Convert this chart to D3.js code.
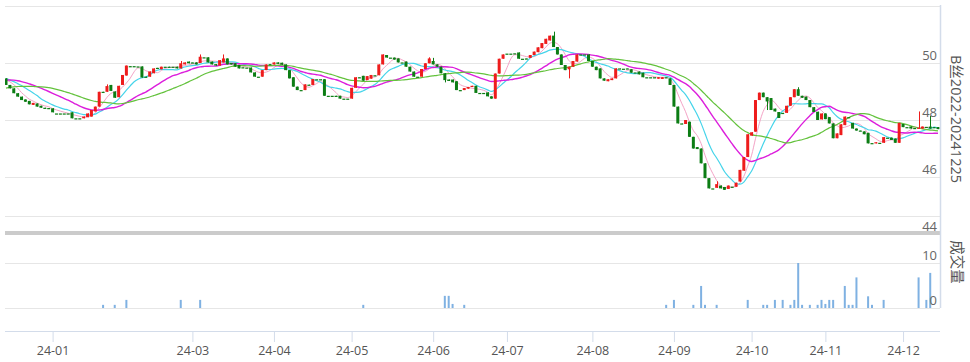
<!DOCTYPE html>
<html>
<head>
<meta charset="utf-8">
<script src="https://cdn.jsdelivr.net/npm/d3@7"></script>
<style>
  body { margin: 0; background: #fff; }
  svg { display: block; }
  text { font-family: "Open Sans", "Noto Sans CJK SC", sans-serif; }
</style>
</head>
<body>
<svg id="chart" width="970" height="362"></svg>
<script>
// trading days per month shown in the window
const monthDays = [["23-12", 12], ["24-01", 22], ["24-02", 14], ["24-03", 21], ["24-04", 20], ["24-05", 21],
  ["24-06", 19], ["24-07", 22], ["24-08", 21], ["24-09", 20], ["24-10", 19], ["24-11", 20], ["24-12", 10]];
const tickMonths = ["24-01", "24-03", "24-04", "24-05", "24-06", "24-07", "24-08", "24-09", "24-10", "24-11", "24-12"];
const priceTicks = [44, 46, 48, 50];
const volumeTicks = [0, 10];
const title = "B丝2022-20241225";
const volumeTitle = "成交量";

// closes before the window, only used to warm up the moving averages
const priorCloses = [48.3, 48.4, 48.5, 48.6, 48.6, 48.6, 48.7, 48.6, 48.6, 48.7,
  49.0, 49.1, 49.2, 49.3, 49.4, 49.4, 49.5, 49.5, 49.5, 49.6,
  49.6, 49.5, 49.5, 49.4, 49.5, 49.4, 49.45, 49.42, 49.5];

const opens = [
  49.46, 49.23, 49.11, 48.94, 48.82, 48.72, 48.67, 48.53, 48.58, 48.50,
  48.43, 48.42, 48.41, 48.23, 48.23, 48.23, 48.23, 48.27, 48.06, 48.06,
  48.06, 48.10, 48.12, 48.30, 48.47, 48.99, 48.99, 49.23, 49.00, 48.80,
  49.23, 49.56, 49.89, 49.89, 49.88, 49.88, 49.52, 49.52, 49.64, 49.83,
  49.78, 49.87, 49.87, 49.87, 49.87, 49.81, 49.95, 50.05, 50.02, 50.02,
  50.00, 50.20, 50.20, 50.05, 49.96, 49.91, 50.02, 50.16, 50.00, 49.99,
  49.93, 49.85, 49.84, 49.84, 49.67, 49.52, 49.52, 49.75, 49.96, 49.95,
  50.02, 50.01, 49.95, 49.75, 49.50, 49.17, 49.05, 49.05, 49.24, 49.23,
  49.43, 49.43, 49.43, 48.85, 48.85, 48.85, 48.85, 48.75, 48.75, 48.75,
  49.13, 49.50, 49.55, 49.40, 49.45, 49.57, 49.57, 49.95, 50.28, 50.19,
  50.19, 50.16, 50.02, 50.05, 49.87, 49.70, 49.52, 49.52, 49.79, 49.99,
  50.07, 49.95, 49.87, 49.64, 49.42, 49.42, 49.36, 49.05, 49.05, 49.10,
  49.16, 49.20, 48.95, 48.95, 48.97, 48.83, 48.75, 49.63, 50.15, 50.33,
  50.33, 50.34, 50.37, 50.15, 50.16, 50.18, 50.28, 50.38, 50.52, 50.67,
  50.79, 50.96, 50.56, 50.30, 49.93, 49.78, 49.87, 50.05, 50.30, 50.30,
  50.30, 50.07, 49.87, 49.81, 49.46, 49.36, 49.40, 49.46, 49.81, 49.80,
  49.81, 49.78, 49.67, 49.70, 49.66, 49.50, 49.50, 49.50, 49.45, 49.44,
  49.50, 49.46, 49.23, 48.47, 47.88, 47.86, 47.94, 47.41, 47.05, 47.00,
  46.48, 45.96, 45.60, 45.62, 45.70, 45.65, 45.58, 45.66, 45.66, 45.84,
  46.22, 46.70, 47.45, 47.59, 48.70, 48.96, 48.80, 48.77, 48.40, 48.28,
  48.25, 48.25, 48.50, 48.80, 49.08, 48.85, 48.82, 48.70, 48.45, 48.29,
  48.02, 48.23, 48.10, 47.88, 47.36, 47.47, 47.82, 48.10, 47.90, 47.70,
  47.63, 47.60, 47.55, 47.19, 47.18, 47.20, 47.20, 47.38, 47.38, 47.35,
  47.20, 47.86, 47.75, 47.77, 47.72, 47.70, 47.70, 47.76, 47.77, 47.75,
  47.75
];

const closes = [
  49.23, 49.11, 48.94, 48.82, 48.70, 48.64, 48.55, 48.60, 48.47, 48.43,
  48.42, 48.41, 48.27, 48.23, 48.23, 48.23, 48.23, 48.06, 48.06, 48.06,
  48.12, 48.23, 48.35, 48.47, 48.99, 48.98, 49.19, 49.02, 48.78, 49.20,
  49.58, 49.91, 49.88, 49.89, 49.88, 49.49, 49.50, 49.70, 49.81, 49.80,
  49.87, 49.87, 49.86, 49.87, 49.81, 49.99, 50.02, 49.99, 50.01, 49.95,
  50.22, 50.20, 50.02, 49.95, 49.91, 50.10, 50.16, 49.95, 49.95, 49.87,
  49.81, 49.84, 49.84, 49.67, 49.52, 49.52, 49.75, 49.95, 49.95, 50.02,
  49.97, 49.94, 49.75, 49.46, 49.17, 49.05, 49.05, 49.25, 49.23, 49.44,
  49.43, 49.42, 48.85, 48.85, 48.85, 48.84, 48.75, 48.75, 48.75, 49.13,
  49.50, 49.49, 49.38, 49.54, 49.58, 49.56, 49.95, 50.30, 50.19, 50.19,
  50.12, 50.02, 50.02, 49.87, 49.70, 49.52, 49.52, 49.79, 49.99, 50.16,
  49.95, 49.87, 49.64, 49.40, 49.37, 49.32, 49.05, 49.05, 49.12, 49.16,
  49.20, 48.95, 48.95, 48.95, 48.83, 48.75, 49.63, 50.15, 50.30, 50.33,
  50.33, 50.34, 50.15, 50.15, 50.15, 50.28, 50.40, 50.55, 50.70, 50.85,
  50.96, 50.56, 50.30, 49.93, 49.75, 49.87, 50.07, 50.30, 50.30, 50.30,
  50.07, 49.87, 49.75, 49.46, 49.38, 49.43, 49.46, 49.81, 49.80, 49.80,
  49.80, 49.66, 49.67, 49.60, 49.50, 49.50, 49.50, 49.49, 49.50, 49.50,
  49.49, 49.23, 48.47, 47.88, 47.87, 48.00, 47.41, 47.00, 46.98, 46.48,
  45.96, 45.60, 45.60, 45.75, 45.60, 45.55, 45.70, 45.66, 45.80, 46.25,
  46.70, 47.50, 47.57, 48.70, 48.96, 48.80, 48.65, 48.35, 48.30, 48.07,
  48.24, 48.50, 48.80, 49.08, 48.85, 48.78, 48.70, 48.45, 48.28, 48.00,
  48.23, 48.03, 47.88, 47.36, 47.53, 47.85, 48.12, 48.10, 47.70, 47.63,
  47.62, 47.50, 47.18, 47.19, 47.22, 47.20, 47.40, 47.38, 47.30, 47.20,
  47.90, 47.75, 47.75, 47.70, 47.71, 47.73, 47.77, 47.76, 47.70, 47.72,
  47.68
];

// visible shadows: [day index, price]
const wickHighs = [[26, 49.25], [45, 50.07], [50, 50.3], [56, 50.3], [109, 50.2], [110, 50.18],
  [141, 51.1], [183, 45.85], [204, 49.15], [235, 48.3], [238, 48.14]];
const wickLows = [[113, 49.32], [145, 49.46], [196, 48.35]];

// volume bars: [day index, lots]
const volumes = [[25, 0.7], [28, 0.7], [31, 1.8], [45, 1.8], [50, 1.8], [92, 0.7], [113, 2.7], [114, 2.7],
  [115, 0.9], [118, 0.7], [170, 0.7], [172, 1.8], [177, 0.7], [179, 4.9], [180, 0.7], [183, 0.7],
  [191, 1.8], [195, 0.7], [196, 0.7], [198, 1.8], [200, 1.8], [202, 0.7], [203, 1.8], [204, 10],
  [205, 0.7], [207, 0.7], [209, 0.7], [210, 1.8], [211, 0.9], [212, 1.8], [213, 1.8], [216, 4.9],
  [217, 0.7], [218, 0.7], [219, 6.8], [222, 2.6], [223, 0.7], [226, 1.8], [235, 6.8], [237, 1.8], [238, 7.8]];

const maSpecs = [{n: 5, color: "#f4a3c6", w: 1}, {n: 10, color: "#45d4ea", w: 1.2},
  {n: 20, color: "#dc1fdc", w: 1.4}, {n: 30, color: "#63c23c", w: 1.2}];

const upColor = "#ee1c1c", downColor = "#0c7d14";

// ---------------------------------------------------------------
const days = monthDays.flatMap(([m, n]) => d3.range(n).map(k => m + "/" + (k + 1)));
const tickDays = tickMonths.map(m => m + "/1");

const left = 5, right = 940;
const svg = d3.select("#chart");

const x = d3.scalePoint().domain(days).range([6, 938]);
const y = d3.scaleLinear().domain([44, 52]).range([234, 6]);
const yv = d3.scaleLinear().domain([0, 10]).range([308, 263]);
const bodyW = 3;

svg.append("defs").append("clipPath").attr("id", "plot")
  .append("rect").attr("x", left).attr("y", 0).attr("width", right - left).attr("height", 232);

// gridlines
svg.append("g").attr("transform", `translate(${left},0)`)
  .call(d3.axisRight(y).tickValues([46, 48, 50, 52]).tickSize(right - left).tickFormat(""))
  .call(g => g.select(".domain").remove())
  .call(g => g.selectAll("line").attr("stroke", "#e6e6e6"));
svg.append("line").attr("x1", left).attr("x2", right).attr("y1", 216.5).attr("y2", 216.5).attr("stroke", "#e6e6e6");
svg.append("g").attr("transform", `translate(${left},0)`)
  .call(d3.axisRight(yv).tickValues(volumeTicks).tickSize(right - left).tickFormat(""))
  .call(g => g.select(".domain").remove())
  .call(g => g.selectAll("line").attr("stroke", "#e6e6e6"));

// separator bar between panes
svg.append("rect").attr("x", left).attr("y", 231).attr("width", right - left).attr("height", 4).attr("fill", "#cbcbcb");

// moving averages
const allCloses = priorCloses.concat(closes);
const off = priorCloses.length;
const plot = svg.append("g").attr("clip-path", "url(#plot)");
maSpecs.forEach(s => {
  const ma = closes.map((c, i) => d3.mean(allCloses.slice(off + i - s.n + 1, off + i + 1)));
  plot.append("path").datum(ma)
    .attr("fill", "none").attr("stroke", s.color).attr("stroke-width", s.w)
    .attr("d", d3.line().x((d, i) => x(days[i])).y(d => y(d)).curve(d3.curveMonotoneX));
});

// candles
const hiMap = new Map(wickHighs), loMap = new Map(wickLows);
const candles = days.map((d, i) => {
  const o = opens[i], c = closes[i];
  return {d, o, c, h: hiMap.get(i) ?? Math.max(o, c), l: loMap.get(i) ?? Math.min(o, c)};
});
const cg = plot.selectAll("g.candle").data(candles).join("g")
  .attr("fill", d => d.c > d.o ? upColor : downColor)
  .attr("stroke", d => d.c > d.o ? upColor : downColor);
cg.append("line")
  .attr("x1", d => Math.round(x(d.d)) + 0.5).attr("x2", d => Math.round(x(d.d)) + 0.5)
  .attr("y1", d => y(d.h)).attr("y2", d => y(d.l)).attr("stroke-width", 1);
cg.append("rect")
  .attr("x", d => x(d.d) - bodyW / 2).attr("width", bodyW)
  .attr("y", d => y(Math.max(d.o, d.c)))
  .attr("height", d => Math.max(1.2, Math.abs(y(d.o) - y(d.c))))
  .attr("stroke", "none");

// volume bars
svg.append("g").selectAll("rect").data(volumes).join("rect")
  .attr("x", d => x(days[d[0]]) - 1).attr("width", 2)
  .attr("y", d => yv(d[1])).attr("height", d => yv(0) - yv(d[1]))
  .attr("fill", "#7fb1e2");

// right axis line
svg.append("line").attr("x1", right + 0.5).attr("x2", right + 0.5).attr("y1", 5).attr("y2", 308)
  .attr("stroke", "#d3dcea").attr("stroke-width", 1.5);

// price labels
svg.append("g").attr("transform", `translate(${right},0)`)
  .call(d3.axisLeft(y).tickValues(priceTicks).tickSize(0).tickPadding(3))
  .call(g => g.select(".domain").remove())
  .call(g => g.selectAll("text").attr("dy", "-0.25em").attr("fill", "#666").attr("font-size", 13)
    .attr("font-family", null));

svg.append("g").attr("transform", `translate(${right},0)`)
  .call(d3.axisLeft(yv).tickValues(volumeTicks).tickSize(0).tickPadding(3))
  .call(g => g.select(".domain").remove())
  .call(g => g.selectAll("text").attr("dy", "-0.25em").attr("fill", "#666").attr("font-size", 13)
    .attr("font-family", null));

// x axis
svg.append("g").attr("transform", "translate(0,331)")
  .call(d3.axisBottom(x).tickValues(tickDays).tickSize(11).tickPadding(4).tickFormat(d => d.split("/")[0]))
  .call(g => g.select(".domain").attr("d", `M${left},0.5H${right}`).attr("stroke", "#d3dcea"))
  .call(g => g.selectAll(".tick line").attr("stroke", "#d3dcea"))
  .call(g => g.selectAll("text").attr("fill", "#555").attr("font-size", 12.5).attr("font-family", null));

// axis names
svg.append("text").attr("transform", "translate(956,119) rotate(90)")
  .attr("text-anchor", "middle").attr("dominant-baseline", "central")
  .attr("font-size", 14.5).attr("fill", "#555").text(title);
svg.append("text").attr("transform", "translate(957,262) rotate(90)")
  .attr("text-anchor", "middle").attr("dominant-baseline", "central")
  .attr("font-size", 14.5).attr("fill", "#555").text(volumeTitle);
</script>
</body>
</html>
